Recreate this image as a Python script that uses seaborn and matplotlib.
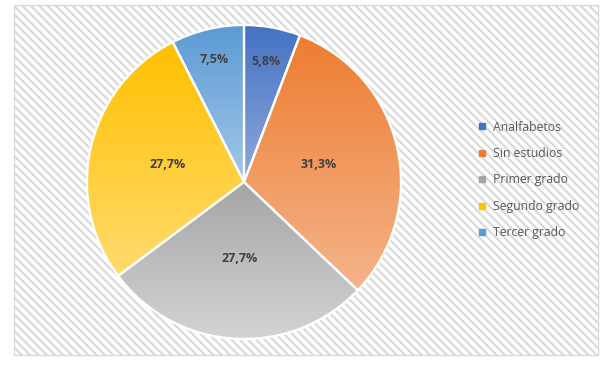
import numpy as np
import matplotlib
matplotlib.use("Agg")
import matplotlib.pyplot as plt
import seaborn as sns
from matplotlib.colors import LinearSegmentedColormap
from matplotlib.lines import Line2D
from matplotlib.patches import Rectangle

# datos
categorias = ["Analfabetos", "Sin estudios", "Primer grado", "Segundo grado", "Tercer grado"]
porcentajes = [5.8, 31.3, 27.7, 27.7, 7.5]
etiquetas = ["5,8%", "31,3%", "27,7%", "27,7%", "7,5%"]

# colores (arriba -> abajo del degradado)
col_arriba = ["#4472C4", "#ED7D31", "#A5A5A5", "#FFC000", "#5B9BD5"]
col_abajo = ["#8FA8DC", "#F5B48A", "#D4D4D4", "#FFDB6E", "#A4C6E8"]
dist_etiqueta = [0.78, 0.49, 0.49, 0.50, 0.80]

sns.set_style("white")
plt.rcParams['font.family'] = ['Open Sans', 'DejaVu Sans']
plt.rcParams['hatch.color'] = '#e8e8e8'
plt.rcParams['hatch.linewidth'] = 1.5

W, H = 612, 365
fig = plt.figure(figsize=(W / 100, H / 100), dpi=100)

# fondo rayado + borde
fondo = Rectangle((14 / W, 1 - 355 / H), 584 / W, 350 / H, transform=fig.transFigure,
                  facecolor='white', edgecolor='#d9d9d9', linewidth=1, hatch='\\\\\\\\', zorder=-5)
fig.patches.append(fondo)

cx, cy, R = 244, 182, 157
ax = fig.add_axes([(cx - R) / W, 1 - (cy + R) / H, 2 * R / W, 2 * R / H])
ax.set_zorder(2)
ax.set_axis_off()
ax.patch.set_alpha(0)

wedges, _ = ax.pie(porcentajes, startangle=90, counterclock=False, radius=1,
                   colors=col_arriba,
                   wedgeprops=dict(edgecolor='white', linewidth=1.6))

grad = np.linspace(0, 1, 256).reshape(-1, 1)
for w, c1, c2 in zip(wedges, col_arriba, col_abajo):
    ext = w.get_path().get_extents()
    cmap = LinearSegmentedColormap.from_list("g", [c1, c2])
    im = ax.imshow(grad, cmap=cmap, aspect='auto', origin='upper',
                   extent=[ext.x0, ext.x1, ext.y0, ext.y1], zorder=w.get_zorder() + 0.1)
    im.set_clip_path(w)
    w.set_facecolor('none')
    w.set_zorder(w.get_zorder() + 0.2)

for w, txt, d in zip(wedges, etiquetas, dist_etiqueta):
    ang = np.deg2rad((w.theta1 + w.theta2) / 2)
    ax.text(d * np.cos(ang), d * np.sin(ang), txt, ha='center', va='center',
            fontsize=9, fontweight='bold', color='#404040', zorder=5)

ax.set_xlim(-1, 1)
ax.set_ylim(-1, 1)

handles = [Line2D([], [], marker='s', linestyle='none', markersize=4.5,
                  markerfacecolor=c, markeredgecolor=c) for c in col_arriba]
leg = fig.legend(handles, categorias, loc='center left', bbox_to_anchor=(472 / W, 1 - 180 / H),
                 frameon=False, fontsize=8.8, labelcolor='#595959', handlelength=0.6,
                 handletextpad=0.6, labelspacing=1.1, borderpad=0)
leg.set_zorder(3)

fig.savefig("out.png", dpi=100)
